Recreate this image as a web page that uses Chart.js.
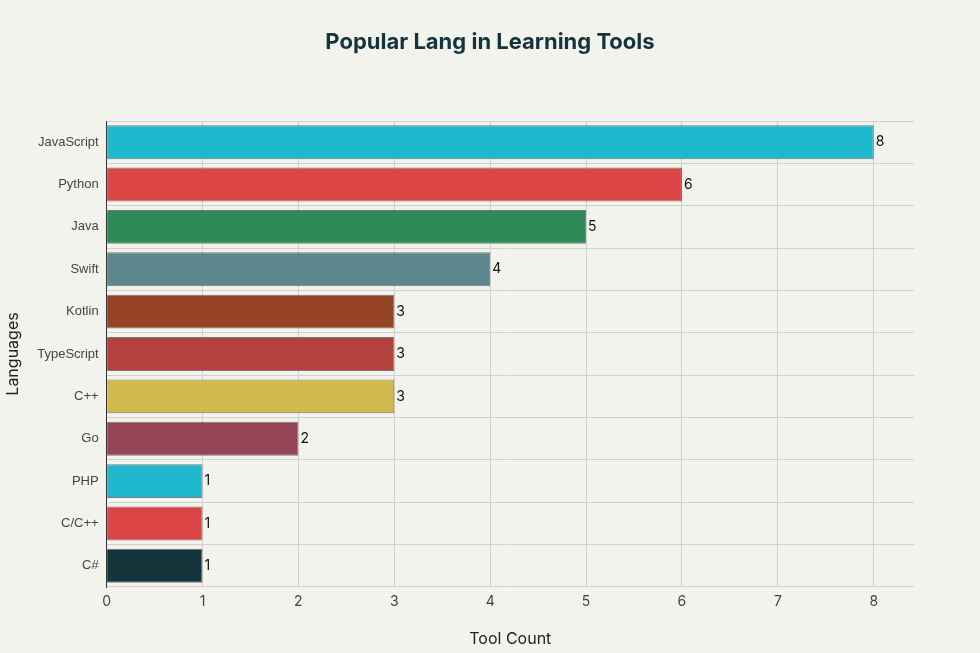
<!DOCTYPE html>
<html><head><meta charset="utf-8">
<script src="https://cdn.jsdelivr.net/npm/chart.js@4"></script>
<style>html,body{margin:0;padding:0;background:#f3f3ee;}#w{width:980px;height:653px;}</style>
</head><body><div id="w"><canvas id="c"></canvas></div>
<script>
const categories = ["JavaScript","Python","Java","Swift","Kotlin","TypeScript","C++","Go","PHP","C/C++","C#"];
const toolCounts = [8,6,5,4,3,3,3,2,1,1,1];
const xTicks = [0,1,2,3,4,5,6,7,8];
const barColors = ["#1FB8CD","#DB4545","#2E8B57","#5D878F","#964325","#B4413C","#D2BA4C","#944454","#1FB8CD","#DB4545","#13343B"];
const labelPlugin = {
  id:'lbl',
  afterDatasetsDraw(chart){
    const ctx=chart.ctx; const meta=chart.getDatasetMeta(0);
    ctx.save(); ctx.font='14px Inter'; ctx.fillStyle='#111'; ctx.textBaseline='middle';
    meta.data.forEach((b,i)=>{ctx.fillText(String(toolCounts[i]), b.x+2, b.y);});
    ctx.fillStyle='#13343B'; ctx.font='bold 22px Inter'; ctx.textAlign='center'; ctx.textBaseline='middle';
    ctx.fillText('Popular Lang in Learning Tools', chart.width/2, 42);
    ctx.restore();
  }
};
new Chart(document.getElementById('c'),{
  type:'bar',
  data:{labels:categories,datasets:[{data:toolCounts,backgroundColor:barColors,borderColor:'rgba(40,40,40,0.6)',borderWidth:1,categoryPercentage:0.8,barPercentage:1}]},
  options:{
    indexAxis:'y',responsive:true,maintainAspectRatio:false,animation:false,
    layout:{padding:{left:0,right:66,top:121,bottom:0}},
    plugins:{legend:{display:false},tooltip:{enabled:false},title:{display:false}},
    scales:{
      x:{min:0,max:8.42,afterBuildTicks(a){a.ticks=xTicks.map(v=>({value:v}));},
        ticks:{color:'#444',font:{family:'Inter',size:14},padding:6},
        grid:{color:'#d0d0cc',drawTicks:false},border:{display:false},
        title:{display:true,text:'Tool Count',color:'#222',font:{family:'Inter',size:16},padding:{top:14}}},
      y:{ticks:{color:'#444',font:{family:'Liberation Sans',size:13},padding:8},
        grid:{color:'#d0d0cc',drawTicks:false},border:{color:'#333'},
        title:{display:true,text:'Languages',color:'#222',font:{family:'Inter',size:16},padding:{bottom:6}}}
    }
  },
  plugins:[labelPlugin]
});
</script></body></html>
